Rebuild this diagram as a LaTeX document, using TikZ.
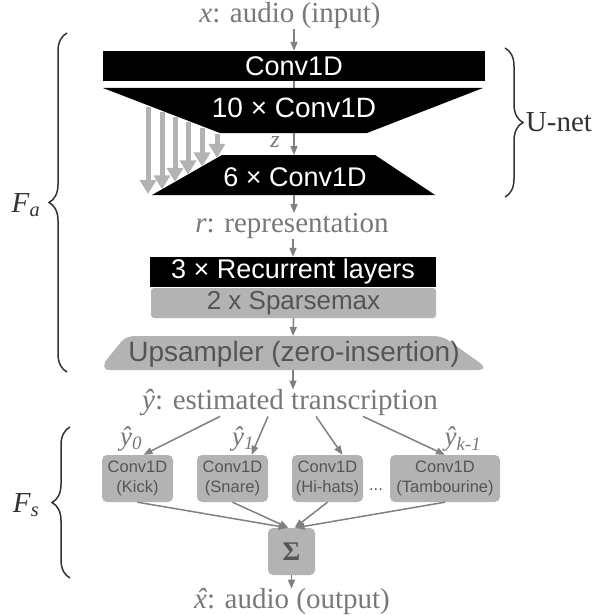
\documentclass[tikz,border=0pt]{standalone}
\usepackage{fontspec}
\setmainfont{Liberation Serif}
\setsansfont{Liberation Sans}
\usetikzlibrary{arrows.meta,positioning,calc,decorations.pathreplacing}
\definecolor{flowgray}{HTML}{808080}
\definecolor{txtgray}{HTML}{787878}
\definecolor{boxgray}{HTML}{B3B3B3}
\definecolor{boxtxt}{HTML}{555555}
\definecolor{brcgray}{HTML}{333333}
\tikzstyle{blackbar} = [fill=black,text=white,inner sep=0,font=\sffamily\fontsize{27}{30}\selectfont]
\tikzstyle{graybox} = [fill=boxgray,text=boxtxt,rounded corners=5pt,inner sep=0,align=center,font=\sffamily\fontsize{16.5}{20}\selectfont]
\tikzstyle{lbl} = [text=txtgray,inner sep=0,font=\fontsize{29}{32}\selectfont]
\tikzstyle{sublbl} = [text=txtgray,inner sep=0,font=\fontsize{27}{30}\selectfont]
\tikzstyle{flow} = [-{Triangle[length=9pt,width=7pt]},draw=flowgray,line width=1.5pt]
\tikzstyle{skip} = [-{Triangle[length=14pt,width=16pt]},draw=boxgray,line width=5pt]
\tikzstyle{brc} = [draw=brcgray,line width=1.5pt,decorate,decoration={brace,amplitude=18pt}]
\tikzstyle{side} = [text=brcgray,inner sep=0,font=\fontsize{29}{32}\selectfont]
\def \hy {\textit{\^y}}
\def \hx {\ooalign{\textit{x}\cr\hidewidth\kern0.08em\textit{ˆ}\hidewidth\cr}}

\begin{document}
\begin{tikzpicture}[x=1pt,y=-1pt]
  \useasboundingbox (0,0) rectangle (598,615);
  \node[lbl] (xin) at (290,16) {\textit{x}: audio (input)};
  \node[blackbar,minimum width=382,minimum height=30] (conv) at (294,66) {Conv1D};
  \coordinate (enc-tl) at (103,88);
  \coordinate (enc-tr) at (483,88);
  \coordinate (enc-br) at (367,133);
  \coordinate (enc-bl) at (220,133);
  \coordinate (dec-tl) at (222,155);
  \coordinate (dec-tr) at (375,155);
  \coordinate (dec-br) at (435,195);
  \coordinate (dec-bl) at (152,195);
  \coordinate (dec-b) at (294,195);
  \draw[flow] (conv.north |- xin.south) -- (conv.north);
  \draw[flow] (conv.south) -- (conv.south |- dec-tl);
  \fill (enc-tl) -- (enc-tr) -- (enc-br) -- (enc-bl) -- cycle;
  \fill (dec-tl) -- (dec-tr) -- (dec-br) -- (dec-bl) -- cycle;
  \node[blackbar,font=\sffamily\fontsize{28}{30}\selectfont] (enc) at (294,108) {10 × Conv1D};
  \node[blackbar] (dec) at (295,177) {6 × Conv1D};
  \node[lbl,font=\fontsize{24}{26}\selectfont] (zlbl) at (275,142) {\textit{z}};
  \foreach \sx in {148,162,175,188,202,217}
    \draw[skip] (\sx,{88+(\sx-105)*45/115+2}) -- (\sx,{min(155+(222-\sx)*40/70,194)});
  \node[lbl] (rep) at (292,226) {\textit{r}: representation};
  \draw[flow] (dec-b) -- (dec-b |- rep.north);
  \node[blackbar,minimum width=286,minimum height=30] (rnn) at (293,272) {3 × Recurrent layers};
  \draw[flow] (rnn.north |- rep.south) -- (rnn.north);
  \node[graybox,minimum width=285,minimum height=30,rounded corners=3pt,font=\sffamily\fontsize{26}{28}\selectfont] (sparse) at (293.5,303) {2 x Sparsemax};
  \coordinate (up-top) at (293,336);
  \coordinate (up-bot) at (293,370);
  \draw[flow] (sparse.south) -- (up-top);
  \fill[boxgray] (110,370) .. controls (102,370) and (103,364) .. (108,358)
    -- (121,342) .. controls (125,337) and (130,336) .. (138,336) -- (432,336)
    .. controls (442,336) and (447,339) .. (452,343) -- (480,363)
    .. controls (486,368) and (484,370) .. (476,370) -- cycle;
  \node[text=boxtxt,inner sep=0,font=\sffamily\fontsize{28}{30}\selectfont] (up) at (294,354) {Upsampler (zero-insertion)};
  \node[lbl] (yest) at (290,403) {\hy: estimated transcription};
  \draw[flow] (up-bot) -- (up-bot |- yest.north);
  \node[graybox,minimum width=71,minimum height=47] (kick) at (137.5,478.5) {Conv1D\\(Kick)};
  \node[graybox,minimum width=71,minimum height=47] (snare) at (232.5,478.5) {Conv1D\\(Snare)};
  \node[graybox,minimum width=71,minimum height=47] (hihat) at (327.5,478.5) {Conv1D\\(Hi-hats)};
  \node[graybox,minimum width=110,minimum height=47] (tamb) at (445,478.5) {Conv1D\\(Tambourine)};
  \node[text=boxtxt,inner sep=0,font=\sffamily\fontsize{16.5}{20}\selectfont] (dots) at (376,490) {...};
  \draw[flow] ($(yest.south)+(-70,0)$) -- ($(kick.north)+(6,0)$);
  \draw[flow] ($(yest.south)+(-22,0)$) -- ($(snare.north)+(19,0)$);
  \draw[flow] ($(yest.south)+(26,0)$) -- ($(hihat.north)+(15,0)$);
  \draw[flow] ($(yest.south)+(73,0)$) -- (tamb.north);
  \node[sublbl] (y0) at (131,439) {\hy\textsubscript{\textit{0}}};
  \node[sublbl] (y1) at (243,439) {\hy\textsubscript{\textit{1}}};
  \node[sublbl] (yk) at (463,439) {\hy\textsubscript{\textit{k-1}}};
  \node[graybox,minimum size=47,font=\bfseries\fontsize{27}{30}\selectfont] (sum) at (291.5,551.5) {Σ};
  \foreach \b/\dx in {kick/-4,snare/-3,hihat/3,tamb/4}
    \draw[flow] (\b.south) -- ($(sum.north)+(\dx,0)$);
  \node[lbl] (xout) at (292,602) {\hx: audio (output)};
  \draw[flow] (sum.south) -- (sum.south |- xout.north);
  \draw[brc] (67,372) -- (67,33);
  \node[side] (fa) at (26,205) {\textit{F}\textsubscript{\textit{a}}};
  \draw[brc] (505,48) -- (505,197);
  \node[side] (unet) at (559,122) {U-net};
  \draw[brc] (70,578) -- (70,427);
  \node[side] (fs) at (26,505) {\textit{F}\textsubscript{\textit{s}}};
\end{tikzpicture}
\end{document}
